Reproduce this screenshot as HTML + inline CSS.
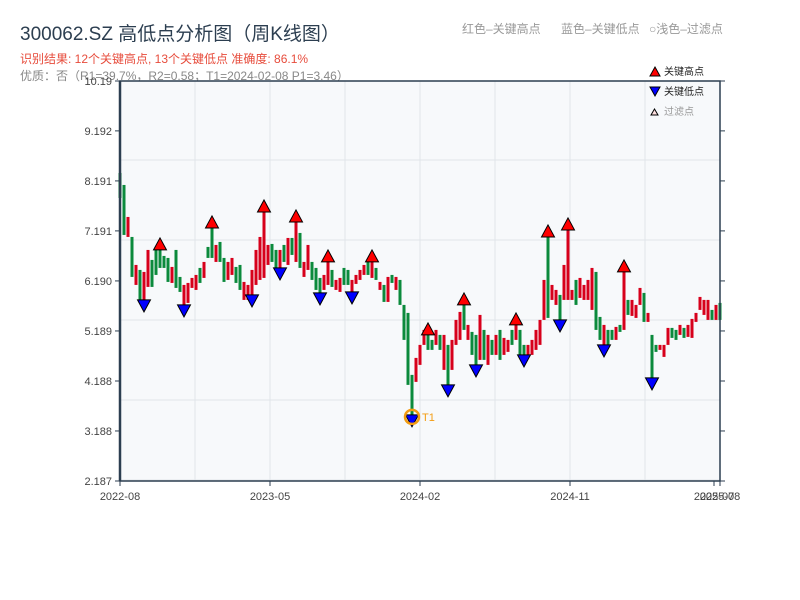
<!DOCTYPE html>
<html><head><meta charset="utf-8">
<style>
body{margin:0;background:#fff;width:800px;height:600px;overflow:hidden;font-family:"Liberation Sans","Noto Sans CJK SC",sans-serif;}
svg{display:block}
</style></head>
<body>
<svg id="chart" width="800" height="600" viewBox="0 0 800 600">
<text x="20" y="40" font-size="19" fill="#2c3e50" font-family="Liberation Sans, Noto Sans CJK SC, sans-serif">300062.SZ 高低点分析图（周K线图）</text>
<text x="20" y="63" font-size="12" fill="#e74c3c" font-family="Liberation Sans, Noto Sans CJK SC, sans-serif">识别结果: 12个关键高点, 13个关键低点   准确度: 86.1%</text>
<text x="20" y="80" font-size="12" fill="#888" font-family="Liberation Sans, Noto Sans CJK SC, sans-serif">优质：否（R1=39.7%，R2=0.58；T1=2024-02-08 P1=3.46）</text>
<text x="462" y="33" font-size="12" fill="#999" font-family="Liberation Sans, Noto Sans CJK SC, sans-serif">红色–关键高点</text>
<text x="561" y="33" font-size="12" fill="#999" font-family="Liberation Sans, Noto Sans CJK SC, sans-serif">蓝色–关键低点</text>
<text x="649" y="33" font-size="12" fill="#999" font-family="Liberation Sans, Noto Sans CJK SC, sans-serif">○浅色–过滤点</text>
<rect x="120" y="81" width="600" height="400" fill="#f7f9fb"/>
<g id="grid"></g>
<g id="candles"></g>
<g id="markers"></g>
<g id="axes"></g>
<g>
<polygon points="650,76 655,67 660,76" fill="#ff0000" stroke="#000" stroke-width="1"/>
<text x="664" y="75" font-size="10" fill="#222" font-family="Liberation Sans, Noto Sans CJK SC, sans-serif">关键高点</text>
<polygon points="650,87 660,87 655,96" fill="#0000ff" stroke="#000" stroke-width="1"/>
<text x="664" y="95" font-size="10" fill="#222" font-family="Liberation Sans, Noto Sans CJK SC, sans-serif">关键低点</text>
<polygon points="651,115 654.5,109 658,115" fill="#ffe0e0" stroke="#000" stroke-width="1"/>
<text x="664" y="115" font-size="10" fill="#999" font-family="Liberation Sans, Noto Sans CJK SC, sans-serif">过滤点</text>
</g>
</svg>
<script>
const opens=[8.35,8.11,7.07,7.07,6.11,6.41,5.81,6.07,6.61,6.81,6.81,6.69,6.65,6.15,6.81,6.27,5.71,5.75,6.05,6.01,6.45,6.25,6.87,7.25,6.57,6.97,6.65,6.21,6.31,6.47,6.51,5.81,5.81,5.91,6.11,6.21,6.25,6.51,6.93,6.81,6.45,6.91,6.51,7.05,6.57,7.15,6.27,6.41,6.57,6.45,6.25,6.01,6.11,6.41,6.01,5.97,6.45,6.41,5.97,6.13,6.21,6.31,6.57,6.25,6.45,6.01,6.11,5.77,6.31,6.01,6.21,5.71,5.55,4.31,4.17,4.51,4.91,5.11,5.01,4.91,5.11,4.41,4.91,4.41,4.91,5.01,5.71,5.01,5.17,5.11,4.61,5.21,4.51,5.01,4.71,5.21,4.71,4.77,5.21,5.01,5.21,4.91,4.71,4.71,4.81,4.91,5.41,7.07,5.81,5.71,5.91,5.81,5.81,5.81,6.21,5.85,5.81,5.81,5.61,6.37,5.47,4.91,5.21,5.21,5.01,5.31,5.21,5.81,5.49,5.45,5.71,5.95,5.37,5.11,4.91,4.81,4.67,4.91,5.25,5.21,5.11,5.25,5.07,5.05,5.37,5.61,5.51,5.41,5.61,5.41,5.75];
const closes=[7.85,7.11,7.47,6.27,6.51,5.81,6.37,6.81,6.07,6.31,6.45,6.45,6.17,6.47,6.05,5.97,6.11,6.15,6.25,6.31,6.15,6.57,6.65,6.65,6.91,6.57,6.17,6.57,6.65,6.15,6.01,6.17,6.11,6.41,6.81,7.07,7.57,6.91,6.57,6.41,6.81,6.57,7.05,6.71,7.37,6.45,6.57,6.91,6.21,6.01,5.95,6.31,6.57,6.07,6.21,6.25,6.11,6.11,6.21,6.31,6.41,6.51,6.31,6.57,6.21,6.17,5.77,6.27,6.15,6.27,5.71,5.01,4.11,3.51,4.65,4.91,5.21,4.81,4.81,5.21,4.81,5.11,4.11,5.01,5.41,5.57,5.21,5.31,4.71,4.51,5.51,4.61,5.11,4.71,5.11,4.61,5.05,5.01,4.91,5.31,4.71,4.71,4.91,5.01,5.21,5.41,6.21,5.45,6.11,6.01,5.41,6.51,7.21,6.01,5.71,6.25,6.11,6.21,6.45,5.21,5.01,5.31,4.91,5.01,5.27,5.17,6.37,5.51,5.81,5.71,6.05,5.37,5.55,4.25,4.77,4.91,4.91,5.25,5.05,5.01,5.31,5.05,5.31,5.43,5.55,5.87,5.81,5.81,5.41,5.71,5.41];
const highIdx=[10,23,36,44,52,63,77,86,99,107,112,126];
const lowIdx=[6,16,33,40,50,58,73,82,89,101,110,121,133];
const t1Index=73;
const yTicks=[2.187,3.188,4.188,5.189,6.190,7.191,8.191,9.192,10.19];
const yTickLabels=["2.187","3.188","4.188","5.189","6.190","7.191","8.191","9.192","10.19"];
const xTickLabels=["2022-08","2023-05","2024-02","2024-11","2025-07","2025-08"];
const xTickIdx=[0,37.5,75,112.5,148.5,150];

const NS="http://www.w3.org/2000/svg";
const X0=120,X1=720,Y0=481,Y1=81,VMIN=2.187,VMAX=10.19;
const n=opens.length;
function xs(i){return X0+i*(X1-X0)/(n-1);}
function ys(v){return Y0-(v-VMIN)/(VMAX-VMIN)*(Y0-Y1);}
function mk(tag,attrs,parent){const e=document.createElementNS(NS,tag);for(const k in attrs)e.setAttribute(k,attrs[k]);parent.appendChild(e);return e;}
const grid=document.getElementById('grid');
for(let k=0;k<=8;k++){
  const gx=X0+k*75;
  const l=mk('line',{x1:gx,x2:gx,y1:Y1,y2:Y0,stroke:'#e1e5ea','stroke-width':1},grid);
  
  
}
for(let k=1;k<=5;k++){
  const gy=Y1-1+k*80;
  const l=mk('line',{x1:X0,x2:X1,y1:gy,y2:gy,stroke:'#e1e5ea','stroke-width':1},grid);
  
  
}
const cg=document.getElementById('candles');
for(let i=0;i<n;i++){
  const up=closes[i]>=opens[i];
  const top=ys(Math.max(opens[i],closes[i])),bot=ys(Math.min(opens[i],closes[i]));
  const r=mk('rect',{x:xs(i)-1.5,y:top,width:3,height:Math.max(1,bot-top),fill:up?'#d7001b':'#0b8a3c'},cg);
  
  
}
const mg=document.getElementById('markers');
highIdx.forEach(i=>{
  const cx=xs(i),b=ys(Math.max(opens[i],closes[i]));
  const p=mk('polygon',{points:`${cx-6.5},${b} ${cx+6.5},${b} ${cx},${b-12}`,fill:'#ff0000',stroke:'#000','stroke-width':1},mg);
  
  
});
lowIdx.forEach(i=>{
  const cx=xs(i),b=ys(Math.min(opens[i],closes[i]));
  const p=mk('polygon',{points:`${cx-6.5},${b} ${cx+6.5},${b} ${cx},${b+12}`,fill:'#0000ff',stroke:'#000','stroke-width':1},mg);
  
  
});
{
  const cx=xs(t1Index),cy=ys(Math.min(opens[t1Index],closes[t1Index]))+2;
  const c=mk('circle',{cx:cx,cy:cy,r:7,fill:'none',stroke:'#f39c12','stroke-width':2.5},mg);
  
  
  const t=mk('text',{x:cx+10,y:cy+4,'font-size':11,fill:'#f39c12','font-family':'Liberation Sans, sans-serif'},mg);
  t.textContent='T1';
  
  
}
const ax=document.getElementById('axes');
const fr=mk('rect',{x:X0,y:Y1,width:X1-X0,height:Y0-Y1,fill:'none',stroke:'#2c3e50','stroke-width':1.5},ax);


const la=mk('line',{x1:X0,x2:X0,y1:Y1,y2:Y0,stroke:'#2c3e50','stroke-width':2.5},ax);


yTicks.forEach((v,k)=>{
  const y=ys(v);
  const tl=mk('line',{x1:X0-5,x2:X0,y1:y,y2:y,stroke:'#2c3e50','stroke-width':1},ax);
  
  
  const tr=mk('line',{x1:X1,x2:X1+5,y1:y,y2:y,stroke:'#2c3e50','stroke-width':1},ax);
  
  
  const t=mk('text',{x:X0-8,y:y+4,'font-size':11,fill:'#444','text-anchor':'end','font-family':'Liberation Sans, sans-serif'},ax);
  t.textContent=yTickLabels[k];
  
  
});
xTickLabels.forEach((s,k)=>{
  const x=xs(xTickIdx[k]);
  const tl=mk('line',{x1:x,x2:x,y1:Y0,y2:Y0+5,stroke:'#2c3e50','stroke-width':1},ax);
  
  
  const t=mk('text',{x:x,y:Y0+19,'font-size':11,fill:'#444','text-anchor':'middle','font-family':'Liberation Sans, sans-serif'},ax);
  t.textContent=s;
  
  
});
</script>
</body></html>
